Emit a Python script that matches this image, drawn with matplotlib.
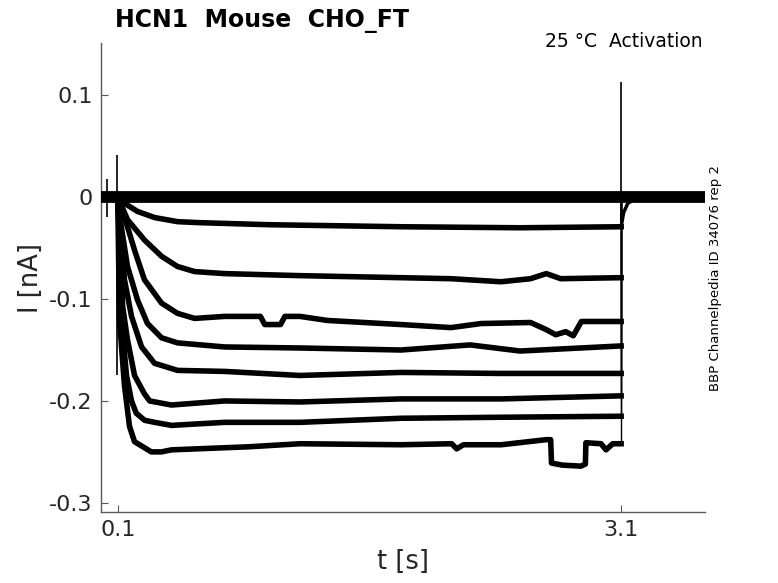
import matplotlib

matplotlib.use('Agg')
import matplotlib.pyplot as plt
import numpy as np

t_zero = [0.0, 3.6]
i_zero = [0.0, 0.0]

t_1 = [0.1, 0.14, 0.218, 0.32, 0.456, 0.588, 1.0, 1.79, 2.5, 3.1]
i_1 = [0.0, -0.006, -0.014, -0.02, -0.024, -0.025, -0.027, -0.029, -0.030, -0.029]

t_2 = [0.1, 0.158, 0.259, 0.361, 0.456, 0.558, 0.737, 1.186, 1.788, 2.086, 2.385, 2.56, 2.654, 2.74, 3.1]
i_2 = [0.0, -0.022, -0.042, -0.058, -0.068, -0.073, -0.075, -0.077, -0.079, -0.080, -0.083, -0.080, -0.075,
       -0.080, -0.079]

t_3 = [0.1, 0.123, 0.2, 0.259, 0.361, 0.456, 0.558, 0.737, 0.95, 0.976, 1.07, 1.096, 1.186, 1.35, 1.788, 2.086,
       2.266, 2.56, 2.654, 2.71, 2.77, 2.815, 2.863, 3.1]
i_3 = [0.0, -0.01, -0.052, -0.081, -0.104, -0.114, -0.119, -0.117, -0.117, -0.125, -0.125, -0.117, -0.117, -0.121,
       -0.125, -0.128, -0.124, -0.123, -0.130, -0.135, -0.132, -0.136, -0.122, -0.122]

t_4 = [0.1, 0.122, 0.158, 0.218, 0.277, 0.361, 0.456, 0.737, 1.186, 1.788, 2.2, 2.498, 3.1]
i_4 = [0.0, -0.03, -0.068, -0.101, -0.124, -0.138, -0.143, -0.147, -0.148, -0.150, -0.145, -0.151, -0.146]

t_5 = [0.1, 0.115, 0.14, 0.182, 0.242, 0.319, 0.456, 0.737, 1.186, 1.788, 2.385, 3.1]
i_5 = [0.0, -0.03, -0.081, -0.117, -0.147, -0.163, -0.170, -0.171, -0.175, -0.172, -0.173, -0.173]

t_6 = [0.1, 0.112, 0.129, 0.158, 0.2, 0.259, 0.29, 0.42, 0.737, 1.186, 1.788, 2.385, 3.1]
i_6 = [0.0, -0.04, -0.107, -0.140, -0.175, -0.193, -0.200, -0.204, -0.200, -0.201, -0.198, -0.198, -0.195]

t_7 = [0.1, 0.11, 0.122, 0.152, 0.182, 0.21, 0.26, 0.32, 0.42, 0.737, 1.186, 1.788, 2.385, 3.1]
i_7 = [0.0, -0.05, -0.12, -0.175, -0.200, -0.212, -0.219, -0.221, -0.224, -0.221, -0.221, -0.217, -0.216, -0.215]

t_8 = [0.1, 0.105, 0.11, 0.14, 0.17, 0.2, 0.3, 0.36, 0.42, 0.88, 1.186, 1.788, 2.09, 2.12, 2.16, 2.385, 2.654,
       2.68, 2.685, 2.75, 2.86, 2.887, 2.89, 2.98, 3.01, 3.05, 3.1]
i_8 = [0.0, -0.06, -0.12, -0.185, -0.225, -0.240, -0.250, -0.250, -0.248, -0.245, -0.242, -0.243, -0.242, -0.247,
       -0.243, -0.243, -0.238, -0.238, -0.261, -0.263, -0.264, -0.262, -0.241, -0.242, -0.248, -0.242, -0.242]

# deactivation tail of the smallest trace
t_tail = [3.1, 3.115, 3.14, 3.2]
i_tail = [-0.029, -0.015, -0.006, 0.0]

# artefact spikes
spike_t = [0.035, 0.097, 3.1]
spike_hi = [0.018, 0.041, 0.113]
spike_lo = [-0.019, -0.175, -0.03]

traces = [(t_1, i_1), (t_2, i_2), (t_3, i_3), (t_4, i_4), (t_5, i_5), (t_6, i_6), (t_7, i_7), (t_8, i_8)]

fig = plt.figure(figsize=(7.78, 5.83), dpi=100)
ax = fig.add_axes([0.1298, 0.1218, 0.7764, 0.8038])

grey = "#5a5a5a"
txt = "#262626"

ax.plot(t_zero, i_zero, color="black", linewidth=8.5, solid_capstyle="butt", zorder=3)
for t, i in traces:
    ax.plot(t, i, color="black", linewidth=4.0, solid_joinstyle="round", zorder=2)
    # step back to holding potential
    ax.plot([t[-1], t[-1]], [i[-1], 0.0], color="black", linewidth=1.0, zorder=2)
ax.plot(t_tail, i_tail, color="black", linewidth=2.5, zorder=2)
ax.vlines(spike_t, spike_lo, spike_hi, color="black", linewidth=1.2, zorder=4)

ax.set_xlim(0, 3.6)
ax.set_ylim(-0.309, 0.151)
ax.set_xticks([0.1, 3.1])
ax.set_xticklabels(["0.1", "3.1"])
ax.set_yticks([0.1, 0, -0.1, -0.2, -0.3])
ax.set_yticklabels(["0.1", "0", "-0.1", "-0.2", "-0.3"])

for side in ["top", "right"]:
    ax.spines[side].set_visible(False)
for side in ["left", "bottom"]:
    ax.spines[side].set_color(grey)
    ax.spines[side].set_linewidth(1.0)
ax.tick_params(direction="in", length=5, width=0.8, color=grey, labelcolor=txt, labelsize=16, pad=6)

ax.set_xlabel("t [s]", fontsize=18.5, color=txt, labelpad=6)
ax.set_ylabel("I [nA]", fontsize=18.5, color=txt, labelpad=4)

fig.text(115 / 778, 1 - 27 / 583, "HCN1  Mouse  CHO_FT", fontsize=17, fontweight="bold",
         ha="left", va="baseline", color="black")
fig.text(703 / 778, 1 - 46.7 / 583, "25 °C  Activation", fontsize=13.5, ha="right", va="baseline",
         color="black")
fig.text(716 / 778, 1 - 278.5 / 583, "BBP Channelpedia ID 34076 rep 2", fontsize=9.5, rotation=90,
         ha="center", va="center", color="black")

fig.savefig("out.png", dpi=100)
plt.close(fig)
